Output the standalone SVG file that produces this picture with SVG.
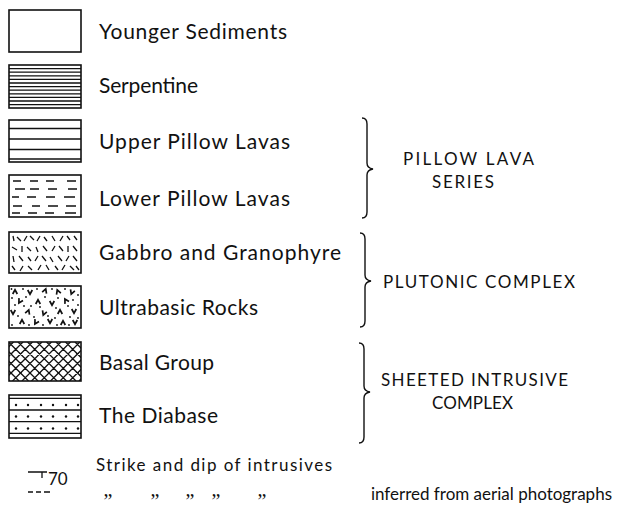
<svg xmlns="http://www.w3.org/2000/svg" width="619" height="517" viewBox="0 0 619 517">
<style>
.bg{fill:#fff}
.box{fill:#fff;stroke:#111;stroke-width:1.6}
.ln{stroke:#111;stroke-width:1.3;fill:none}
.lbl{font-family:Lato,"Open Sans","Liberation Sans",sans-serif;font-size:21px;fill:#111}
.grp{font-family:Lato,"Open Sans","Liberation Sans",sans-serif;font-size:17px;fill:#111}
.sm{font-family:Lato,"Open Sans","Liberation Sans",sans-serif;font-size:17px;fill:#111}
.dit{font-family:"Liberation Serif",serif;font-size:20px;fill:#111;text-anchor:middle}
.brace{fill:none;stroke:#111;stroke-width:1.4}
</style>
<defs>
<path id="chev" d="M-2.3,-2 L0,2.2 L2.3,-2" fill="none" stroke="#111" stroke-width="1.7"/>
<clipPath id="cb"><rect x="9" y="342" width="72" height="39"/></clipPath>
</defs>
<rect class="bg" x="0" y="0" width="619" height="517"/>

<g id="younger-sediments">
<rect class="box" x="9" y="10" width="72" height="42"/>
<text class="lbl" x="99" y="39" textLength="188">Younger Sediments</text>
</g>

<g id="serpentine">
<rect class="box" x="9" y="65" width="72" height="43"/>
<path class="ln" d="M9,68.6H81M9,72.2H81M9,75.8H81M9,79.4H81M9,83H81M9,86.6H81M9,90.2H81M9,93.8H81M9,97.4H81M9,101H81M9,104.6H81"/>
<text class="lbl" x="99" y="93" textLength="99">Serpentine</text>
</g>

<g id="upper-pillow-lavas">
<rect class="box" x="9" y="120" width="72" height="42"/>
<path class="ln" d="M9,128.5H81M9,139H81M9,149.5H81M9,159H81"/>
<text class="lbl" x="99" y="149" textLength="191">Upper Pillow Lavas</text>
</g>

<g id="lower-pillow-lavas">
<rect class="box" x="9" y="175" width="72" height="42"/>
<path class="ln" d="M13,181H21M30,181H38M46,181H54M67,181H76M15,189H25M30,189H39M48,189H57M68,189H77M12,197H19M27,197H36M46,197H55M64,197H75M13,206H22M32,206H40M48,206H58M66,206H76M12,213H20M28,213H37M45,213H54M65,213H76"/>
<text class="lbl" x="99" y="206" textLength="191">Lower Pillow Lavas</text>
</g>

<g id="gabbro-granophyre">
<rect class="box" x="9" y="232" width="72" height="41"/>
<path class="ln" d="M13,236L14,241M17,237L21,241M24,241L27,236M30,236L34,240M37,241L40,236M44,237L47,241M52,236L55,241M60,241L63,236M67,236L70,240M74,236L77,240M12,247L17,250M22,246L22,252M27,247L31,251M36,247L38,252M43,246L47,251M52,251L55,246M59,246L63,251M68,246L68,252M73,246L77,251M13,256L14,262M19,256L23,261M28,257L31,261M35,261L38,256M42,256L46,261M50,257L53,262M58,256L62,261M66,261L69,256M73,256L77,261M12,266L15,270M20,271L23,266M28,266L32,270M38,270L41,265M46,265L49,270M55,266L58,270M62,270L65,265M70,266L74,270M76,266L79,270"/>
<text class="lbl" x="99" y="260" textLength="242">Gabbro and Granophyre</text>
</g>

<g id="ultrabasic-rocks">
<rect class="box" x="9" y="286" width="72" height="42"/>
<use href="#chev" transform="translate(15,292) rotate(180)"/>
<use href="#chev" transform="translate(30,292)"/>
<use href="#chev" transform="translate(45,291) rotate(200)"/>
<use href="#chev" transform="translate(58,292) rotate(160)"/>
<use href="#chev" transform="translate(72,292) rotate(20)"/>
<use href="#chev" transform="translate(20,301) rotate(30)"/>
<use href="#chev" transform="translate(38,302) rotate(180)"/>
<use href="#chev" transform="translate(52,303)"/>
<use href="#chev" transform="translate(66,301) rotate(150)"/>
<use href="#chev" transform="translate(13,312)"/>
<use href="#chev" transform="translate(28,312) rotate(200)"/>
<use href="#chev" transform="translate(44,313) rotate(20)"/>
<use href="#chev" transform="translate(60,312) rotate(180)"/>
<use href="#chev" transform="translate(74,311)"/>
<use href="#chev" transform="translate(22,322) rotate(180)"/>
<use href="#chev" transform="translate(36,322) rotate(30)"/>
<use href="#chev" transform="translate(50,321)"/>
<use href="#chev" transform="translate(63,323) rotate(180)"/>
<use href="#chev" transform="translate(75,322)"/>
<g fill="#111">
<circle cx="11.5" cy="289" r="0.9"/><circle cx="23" cy="289" r="0.9"/><circle cx="37" cy="289" r="0.9"/><circle cx="52" cy="289" r="0.9"/><circle cx="65" cy="289" r="0.9"/><circle cx="78" cy="295" r="0.9"/><circle cx="12" cy="298" r="0.9"/><circle cx="26" cy="297" r="0.9"/><circle cx="31" cy="306" r="0.9"/><circle cx="45" cy="297" r="0.9"/><circle cx="58" cy="298" r="0.9"/><circle cx="73" cy="300" r="0.9"/><circle cx="15" cy="305" r="0.9"/><circle cx="24" cy="306" r="0.9"/><circle cx="40" cy="307" r="0.9"/><circle cx="56" cy="308" r="0.9"/><circle cx="68" cy="306" r="0.9"/><circle cx="78" cy="305" r="0.9"/><circle cx="18" cy="316" r="0.9"/><circle cx="34" cy="317" r="0.9"/><circle cx="48" cy="316" r="0.9"/><circle cx="55" cy="318" r="0.9"/><circle cx="70" cy="317" r="0.9"/><circle cx="12" cy="325" r="0.9"/><circle cx="29" cy="325" r="0.9"/><circle cx="43" cy="325" r="0.9"/><circle cx="57" cy="325" r="0.9"/><circle cx="69" cy="325" r="0.9"/><circle cx="78" cy="318" r="0.9"/>
</g>
<text class="lbl" x="99" y="315" textLength="159">Ultrabasic Rocks</text>
</g>

<g id="basal-group">
<rect class="box" x="9" y="342" width="72" height="39"/>
<path class="ln" clip-path="url(#cb)" d="M-29.5,342l39,39M-20,342l39,39M-10.5,342l39,39M-1,342l39,39M8.5,342l39,39M18,342l39,39M27.5,342l39,39M37,342l39,39M46.5,342l39,39M56,342l39,39M65.5,342l39,39M75,342l39,39M13.5,342l-39,39M23,342l-39,39M32.5,342l-39,39M42,342l-39,39M51.5,342l-39,39M61,342l-39,39M70.5,342l-39,39M80,342l-39,39M89.5,342l-39,39M99,342l-39,39M108.5,342l-39,39M118,342l-39,39"/>
<text class="lbl" x="99" y="370" textLength="115">Basal Group</text>
</g>

<g id="the-diabase">
<rect class="box" x="9" y="395" width="72" height="43"/>
<path class="ln" d="M9,398.3H81M9,410H81M9,421.7H81M9,433.3H81"/>
<g fill="#111">
<circle cx="16" cy="405" r="1.2"/><circle cx="28" cy="405" r="1.2"/><circle cx="41" cy="405" r="1.2"/><circle cx="53" cy="405" r="1.2"/><circle cx="66" cy="405" r="1.2"/><circle cx="78" cy="405" r="1.2"/>
<circle cx="16" cy="416.5" r="1.2"/><circle cx="28" cy="416.5" r="1.2"/><circle cx="41" cy="416.5" r="1.2"/><circle cx="53" cy="416.5" r="1.2"/><circle cx="66" cy="416.5" r="1.2"/><circle cx="78" cy="416.5" r="1.2"/>
<circle cx="16" cy="428.5" r="1.2"/><circle cx="28" cy="428.5" r="1.2"/><circle cx="41" cy="428.5" r="1.2"/><circle cx="53" cy="428.5" r="1.2"/><circle cx="66" cy="428.5" r="1.2"/><circle cx="78" cy="428.5" r="1.2"/>
</g>
<text class="lbl" x="99" y="423" textLength="119">The Diabase</text>
</g>

<g id="pillow-lava-series">
<path class="brace" d="M362,118Q367,118 367,124L367,163Q367,168 373,169Q367,170 367,175L367,212Q367,218 362,218"/>
<text class="grp" x="403" y="165" textLength="131">PILLOW LAVA</text>
<text class="grp" x="432" y="188" textLength="62">SERIES</text>
</g>

<g id="plutonic-complex">
<path class="brace" d="M360,233Q365,233 365,239L365,275Q365,280 371,281Q365,282 365,287L365,321Q365,327 360,327"/>
<text class="grp" x="383" y="288" textLength="192">PLUTONIC COMPLEX</text>
</g>

<g id="sheeted-intrusive-complex">
<path class="brace" d="M359,343Q364,343 364,349L364,386Q364,391 370,392Q364,393 364,398L364,437Q364,443 359,443"/>
<text class="grp" x="381" y="386" textLength="187">SHEETED INTRUSIVE</text>
<text class="grp" x="432" y="409" textLength="81">COMPLEX</text>
</g>

<g id="strike-dip">
<path class="ln" d="M28,472H47M42,472V478"/>
<path class="ln" d="M28,492H33M36,492H41M44,492H50"/>
<text class="sm" x="48" y="485" font-size="15">70</text>
<text class="sm" x="96" y="471" textLength="236">Strike and dip of intrusives</text>
<text class="dit" x="108" y="508">”</text>
<text class="dit" x="155" y="508">”</text>
<text class="dit" x="190" y="508">”</text>
<text class="dit" x="216" y="508">”</text>
<text class="dit" x="262" y="508">”</text>
<text class="sm" x="612" y="500" text-anchor="end" font-size="15.5">inferred from aerial photographs</text>
</g>
</svg>
